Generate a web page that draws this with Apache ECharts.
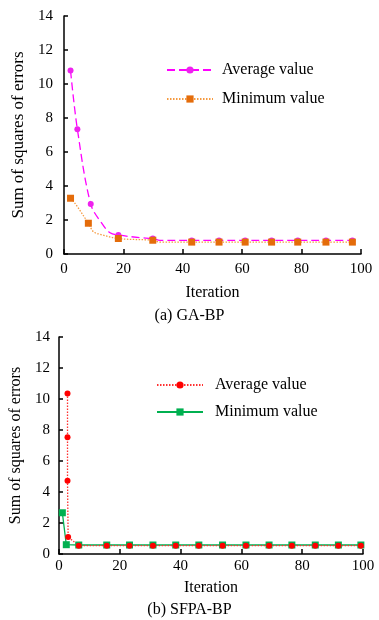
<!DOCTYPE html>
<html><head><meta charset="utf-8">
<script src="https://cdn.jsdelivr.net/npm/echarts@6/dist/echarts.min.js"></script>
<style>html,body{margin:0;padding:0;background:#fff}#c{width:379px;height:620px}</style>
</head><body><div id="c"></div>
<script>
const FONT = '"Liberation Serif", "Times New Roman", serif';
const seriesNames = ['Average value', 'Minimum value'];
const panelTitles = ['(a) GA-BP', '(b) SFPA-BP'];
const xAxisName = 'Iteration';
const yAxisName = 'Sum of squares of errors';

// (a) GA-BP; marked = drawn with a symbol
const gaAvgX = [2.2, 4.5, 9.0, 12.7, 15.5, 18.3, 25.6, 29.9, 32.3, 43.0, 52.2, 61.0, 69.9, 78.7, 88.2, 97.1];
const gaAvgY = [10.79, 7.34, 2.94, 1.81, 1.25, 1.12, 0.96, 0.91, 0.80, 0.80, 0.80, 0.80, 0.80, 0.80, 0.80, 0.80];
const gaAvgMarked = [1, 1, 1, 0, 0, 1, 0, 1, 0, 1, 1, 1, 1, 1, 1, 1];
const gaMinX = [2.2, 3.7, 8.2, 9.9, 12.1, 18.3, 29.9, 32.3, 43.0, 52.2, 61.0, 69.9, 78.7, 88.2, 97.1];
const gaMinY = [3.28, 2.98, 1.81, 1.31, 1.16, 0.91, 0.81, 0.70, 0.70, 0.70, 0.70, 0.70, 0.70, 0.70, 0.70];
const gaMinMarked = [1, 0, 1, 0, 0, 1, 1, 0, 1, 1, 1, 1, 1, 1, 1];

// (b) SFPA-BP
const sfAvgX = [2.8, 2.8, 2.8, 3.0, 6.5, 15.7, 23.2, 30.9, 38.4, 46.0, 53.8, 61.5, 69.1, 76.6, 84.3, 91.9, 99.3];
const sfAvgY = [10.35, 7.53, 4.73, 1.10, 0.54, 0.54, 0.54, 0.54, 0.54, 0.54, 0.54, 0.54, 0.54, 0.54, 0.54, 0.54, 0.54];
const sfMinX = [1.1, 2.4, 6.5, 15.7, 23.2, 30.9, 38.4, 46.0, 53.8, 61.5, 69.1, 76.6, 84.3, 91.9, 99.3];
const sfMinY = [2.66, 0.60, 0.58, 0.58, 0.58, 0.58, 0.58, 0.58, 0.58, 0.58, 0.58, 0.58, 0.58, 0.58, 0.58];

function pts(xs, ys, marked) {
  return xs.map((x, i) => {
    const d = { value: [x, ys[i]] };
    if (marked && !marked[i]) d.symbol = 'none';
    return d;
  });
}

const axisLine = { show: true, lineStyle: { color: '#000', width: 1.5 } };
function xAx(gi, labelMargin, nameGap) {
  return {
    type: 'value', gridIndex: gi, min: 0, max: 100, interval: 20,
    name: xAxisName, nameLocation: 'middle', nameGap: nameGap,
    nameTextStyle: { fontFamily: FONT, fontSize: 16, color: '#000' },
    axisLine: axisLine, axisTick: { show: true, inside: true, length: 5, lineStyle: { color: '#000', width: 1.5 } },
    axisLabel: { fontFamily: FONT, fontSize: 15, color: '#000', margin: labelMargin },
    splitLine: { show: false }
  };
}
function yAx(gi, labelMargin, nameGap, nameSize) {
  return {
    type: 'value', gridIndex: gi, min: 0, max: 14, interval: 2,
    name: yAxisName, nameLocation: 'middle', nameGap: nameGap,
    nameTextStyle: { fontFamily: FONT, fontSize: nameSize, color: '#000' },
    axisLine: axisLine, axisTick: { show: true, inside: true, length: 4, lineStyle: { color: '#000', width: 1.5 } },
    axisLabel: { fontFamily: FONT, fontSize: 15, color: '#000', margin: labelMargin },
    splitLine: { show: false }
  };
}

const chart = echarts.init(document.getElementById('c'), null, { renderer: 'canvas' });
chart.setOption({
  animation: false,
  backgroundColor: '#fff',
  grid: [
    { left: 64, top: 16, width: 297, height: 238 },
    { left: 56, top: 337, width: 307, height: 217 }
  ],
  xAxis: [xAx(0, 8, 31), xAx(1, 5, 26)],
  yAxis: [yAx(0, 11, 36, 17), yAx(1, 9, 35, 16)],
  legend: [
    { orient: 'vertical', left: 161, top: 57, itemWidth: 46, itemHeight: 9, itemGap: 13,
      data: seriesNames.map(n => ({ name: n })),
      textStyle: { fontFamily: FONT, fontSize: 16, color: '#000', padding: [0, 0, 0, 4] },
      selectedMode: false },
    { orient: 'vertical', left: 151, top: 372, itemWidth: 46, itemHeight: 9, itemGap: 11,
      data: ['Average value ', 'Minimum value '].map(n => ({ name: n })),
      textStyle: { fontFamily: FONT, fontSize: 16, color: '#000', padding: [0, 0, 0, 7] },
      selectedMode: false }
  ],
  graphic: [
    { type: 'text', left: 'center', top: 308, style: { text: panelTitles[0], font: '16px ' + FONT, fill: '#000' } },
    { type: 'text', left: 'center', top: 602, style: { text: panelTitles[1], font: '16px ' + FONT, fill: '#000' } }
  ],
  series: [
    { name: seriesNames[0], type: 'line', xAxisIndex: 0, yAxisIndex: 0, smooth: 0.35,
      data: pts(gaAvgX, gaAvgY, gaAvgMarked), symbol: 'circle', symbolSize: 6,
      lineStyle: { color: '#FF00FF', width: 1.3, type: [8, 4] }, itemStyle: { color: '#EE22EE' } },
    { name: seriesNames[1], type: 'line', xAxisIndex: 0, yAxisIndex: 0, smooth: 0.35,
      data: pts(gaMinX, gaMinY, gaMinMarked), symbol: 'rect', symbolSize: 7,
      lineStyle: { color: '#F59A40', width: 1.3, type: [1.5, 1.5] }, itemStyle: { color: '#E46C0A' } },
    { name: 'Minimum value ', type: 'line', xAxisIndex: 1, yAxisIndex: 1,
      data: pts(sfMinX, sfMinY), symbol: 'rect', symbolSize: 7,
      lineStyle: { color: '#00B050', width: 1.3 }, itemStyle: { color: '#00B050' } },
    { name: 'Average value ', type: 'line', xAxisIndex: 1, yAxisIndex: 1,
      data: pts(sfAvgX, sfAvgY), symbol: 'circle', symbolSize: 6,
      lineStyle: { color: '#FF3030', width: 1.3, type: [1.5, 1.5] }, itemStyle: { color: '#FF0000' } }
  ]
});
</script></body></html>
